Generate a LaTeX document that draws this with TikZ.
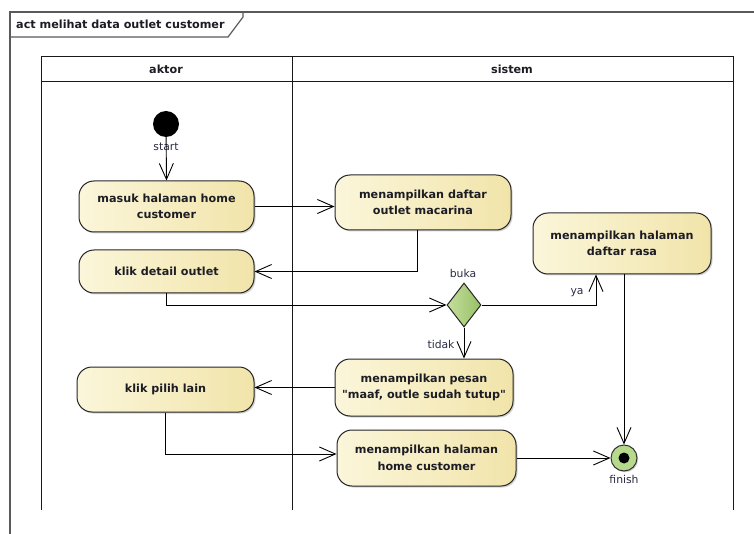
\documentclass[tikz,border=0pt]{standalone}
\usepackage{fontspec}
\setmainfont{DejaVu Sans}
\usetikzlibrary{arrows.meta,shapes.geometric,shadows}

\definecolor{actL}{HTML}{FBF6DA}
\definecolor{actR}{HTML}{F1E4AA}
\definecolor{ink}{HTML}{1C1C24}
\definecolor{lbl}{HTML}{2C2C44}
\definecolor{framec}{HTML}{5A5A5A}
\definecolor{decL}{HTML}{C4DE9C}
\definecolor{decR}{HTML}{98C066}
\definecolor{finC}{HTML}{B6D98C}

\begin{document}
\begin{tikzpicture}[x=1pt,y=-1pt,
  act/.style={draw=black!85, line width=1pt, rounded corners=15pt,
    left color=actL, right color=actR, align=center, inner sep=0pt,
    font=\bfseries\fontsize{11.2}{16.5}\selectfont, text=ink,
    drop shadow={shadow xshift=1.5pt, shadow yshift=-1.5pt, opacity=0.18, fill=black}},
  flow/.style={draw=black, line width=0.9pt,
    -{Straight Barb[length=16pt,width=14pt,line width=0.9pt]}},
  lab/.style={font=\fontsize{10.8}{13}\selectfont, text=lbl, inner sep=0pt},
  head/.style={font=\bfseries\fontsize{11.2}{13}\selectfont, text=ink, inner sep=0pt},
  lane/.style={draw=black!90, line width=1pt}
]
\useasboundingbox (0,0) rectangle (754,534);
\fill[white] (0,0) rectangle (754,534);

% outer frame and its name tab
\draw[framec, line width=1.2pt] (10,534) -- (10,12) -- (754,12);
\draw[framec, line width=1.2pt] (10,37) -- (228,37) -- (243,17) -- (243,12);
\node[head, anchor=west] (title) at (16,24) {act melihat data outlet customer};

% swimlanes
\draw[lane] (41,510) -- (41,57) -- (733,57) -- (733,510);
\draw[lane] (41,82) -- (733,82);
\draw[lane] (292,57) -- (292,510);
\node[head] (laneA) at (166,69) {aktor};
\node[head] (laneS) at (512,69) {sistem};

% initial and final nodes
\node[circle, fill=black, minimum size=26pt, inner sep=0pt] (start) at (166,124) {};
\node[lab] (startlbl) at (166,147) {start};
\node[circle, draw=black!80, line width=1pt, fill=finC, minimum size=26pt, inner sep=0pt,
      drop shadow={shadow xshift=1.2pt, shadow yshift=-1.2pt, opacity=0.18, fill=black}] (fin) at (624,458) {};
\node[circle, fill=black, minimum size=11pt, inner sep=0pt] (findot) at (fin) {};
\node[lab] (finlbl) at (624,479) {finish};

% actions
\node[act, minimum width=175pt, minimum height=51pt] (home) at (166.5,206.5) {masuk halaman home\\customer};
\node[act, minimum width=176pt, minimum height=55pt] (daftar) at (423,202.5) {menampilkan daftar\\outlet macarina};
\node[act, minimum width=175pt, minimum height=43pt] (detail) at (166.5,271.5) {klik detail outlet};
\node[act, minimum width=178pt, minimum height=61pt] (rasa) at (622,243.5) {menampilkan halaman\\daftar rasa};
\node[act, minimum width=178pt, minimum height=57pt] (pesan) at (424,387.5) {menampilkan pesan\\\textquotedbl maaf, outle sudah tutup\textquotedbl};
\node[act, minimum width=177pt, minimum height=45pt] (pilih) at (165.5,389.5) {klik pilih lain};
\node[act, minimum width=179pt, minimum height=56pt] (homesys) at (426.5,458) {menampilkan halaman\\home customer};

% decision
\node[diamond, draw=black!85, line width=1pt, left color=decL, right color=decR,
      minimum width=34pt, minimum height=44pt, inner sep=0pt] (dec) at (464,305) {};
\node[lab] (buka) at (463,273) {buka};
\node[lab] (ya) at (577,293) {ya};
\node[lab] (tidak) at (441,344) {tidak};

% control flows
\draw[flow] (start) -- (home.north);
\draw[flow] (home.east) -- (home.east -| daftar.west);
\draw[flow] ([xshift=-6pt]daftar.south) |- (detail.east);
\draw[flow] (detail.south) |- (dec.west);
\draw[flow] (dec.east) -| ([xshift=-26pt]rasa.south);
\draw[flow] (dec.south) -- (dec.south |- pesan.north);
\draw[flow] (pesan.west) -- (pesan.west -| pilih.east);
\draw[flow] (pilih.south) |- ([yshift=4pt]homesys.west);
\draw[flow] (homesys.east) -- (fin.west);
\draw[flow] (fin.north |- rasa.south) -- (fin.north);
\end{tikzpicture}
\end{document}
